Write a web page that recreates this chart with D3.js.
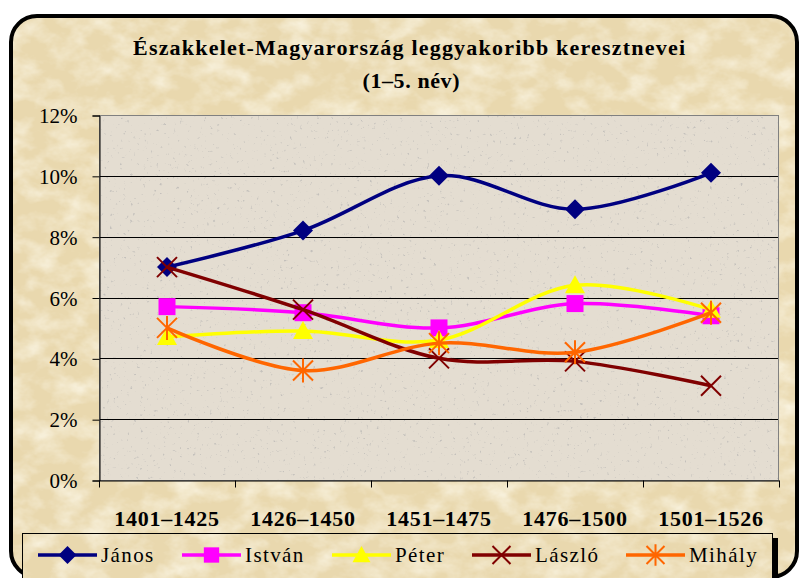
<!DOCTYPE html>
<html>
<head>
<meta charset="utf-8">
<script src="https://cdn.jsdelivr.net/npm/d3@7"></script>
<style>
  body { margin: 0; background: #fff; }
  svg { display: block; }
  text { font-family: "Liberation Serif", "DejaVu Serif", serif; fill: #000; }
</style>
</head>
<body>
<div id="chart"></div>
<script>
'use strict'

// periods on the x axis
const periods = ["1401–1425", "1426–1450", "1451–1475", "1476–1500", "1501–1526"]
// share of each name, in percent
const janos  = [7.0, 8.2, 10.0, 8.9, 10.1]
const istvan = [5.7, 5.5, 5.0, 5.8, 5.4]
const peter  = [4.7, 4.9, 4.6, 6.4, 5.6]
const laszlo = [7.0, 5.6, 4.0, 3.9, 3.1]
const mihaly = [5.0, 3.6, 4.5, 4.2, 5.5]
const names  = ["János", "István", "Péter", "László", "Mihály"]
const yTicks = [0, 2, 4, 6, 8, 10, 12]

const series = [
  {name: names[0], values: janos,  color: "#000080", marker: "diamond"},
  {name: names[1], values: istvan, color: "#ff00ff", marker: "square"},
  {name: names[2], values: peter,  color: "#ffff00", marker: "triangle"},
  {name: names[3], values: laszlo, color: "#800000", marker: "cross"},
  {name: names[4], values: mihaly, color: "#ff6600", marker: "star"}
]

const serif = '"Liberation Serif", "DejaVu Serif", serif'
const width = 799, height = 578
const svg = d3.select("#chart").append("svg")
  .attr("width", width).attr("height", height)

const defs = svg.append("defs")
// parchment mottling
const paper = defs.append("filter").attr("id", "paper")
  .attr("x", 0).attr("y", 0).attr("width", 1).attr("height", 1)
paper.append("feTurbulence").attr("type", "fractalNoise")
  .attr("baseFrequency", "0.035 0.05").attr("numOctaves", 4).attr("seed", 7)
paper.append("feColorMatrix").attr("type", "matrix")
  .attr("values", "0 0 0 0 0.97  0 0 0 0 0.93  0 0 0 0 0.80  1.6 0 0 0 -0.62")

// speckles for the plot area
const speck = defs.append("filter").attr("id", "speck")
  .attr("x", 0).attr("y", 0).attr("width", 1).attr("height", 1)
speck.append("feTurbulence").attr("type", "fractalNoise")
  .attr("baseFrequency", 0.3).attr("numOctaves", 2).attr("seed", 3)
speck.append("feColorMatrix").attr("type", "matrix")
  .attr("values", "0 0 0 0 0.55  0 0 0 0 0.53  0 0 0 0 0.50  6 0 0 0 -4.1")

defs.append("clipPath").attr("id", "frameClip")
  .append("rect").attr("x", 11).attr("y", 16).attr("width", 786).attr("height", 561).attr("rx", 26)

// outer frame
const frame = svg.append("g")
frame.append("rect").attr("x", 11).attr("y", 16).attr("width", 786).attr("height", 561)
  .attr("rx", 26).attr("fill", "#e9d8ae")
frame.append("rect").attr("x", 11).attr("y", 16).attr("width", 786).attr("height", 561)
  .attr("clip-path", "url(#frameClip)").attr("filter", "url(#paper)")
frame.append("rect").attr("x", 11).attr("y", 16).attr("width", 786).attr("height", 561)
  .attr("rx", 26).attr("fill", "none").attr("stroke", "#000").attr("stroke-width", 4)

// title
const title = svg.append("text").attr("text-anchor", "middle")
  .style("font-weight", "bold").style("font-size", "22px")
title.append("tspan").attr("x", 409).attr("y", 55)
  .attr("textLength", 552).attr("lengthAdjust", "spacing")
  .text("Északkelet-Magyarország leggyakoribb keresztnevei")
title.append("tspan").attr("x", 411).attr("y", 88)
  .attr("textLength", 97).attr("lengthAdjust", "spacing")
  .text("(1–5. név)")

const plot = {left: 99, right: 779, top: 115, bottom: 480}

const x = d3.scaleBand().domain(periods).range([plot.left, plot.right])
const y = d3.scaleLinear().domain([0, 12]).range([plot.bottom, plot.top])

// plot area
svg.append("rect").attr("x", plot.left).attr("y", plot.top)
  .attr("width", plot.right - plot.left).attr("height", plot.bottom - plot.top)
  .attr("fill", "#e4ddd1")
svg.append("rect").attr("x", plot.left).attr("y", plot.top)
  .attr("width", plot.right - plot.left).attr("height", plot.bottom - plot.top)
  .attr("filter", "url(#speck)")

// gridlines
svg.append("g").selectAll("line").data(yTicks.filter(d => d > 0)).enter().append("line")
  .attr("x1", plot.left).attr("x2", plot.right)
  .attr("y1", d => Math.round(y(d)) + 0.5).attr("y2", d => Math.round(y(d)) + 0.5)
  .attr("stroke", "#000").attr("stroke-width", 1)

svg.append("rect").attr("x", plot.left + 0.5).attr("y", plot.top + 0.5)
  .attr("width", plot.right - plot.left - 1).attr("height", plot.bottom - plot.top)
  .attr("fill", "none").attr("stroke", "#808080").attr("stroke-width", 1)

// y axis
const yAxis = svg.append("g").attr("transform", "translate(" + (plot.left + 0.5) + ",0.5)")
  .call(d3.axisLeft(y).tickValues(yTicks).tickFormat(d => d + "%").tickSize(7).tickPadding(15))
yAxis.attr("font-family", null)
yAxis.select(".domain").attr("stroke", "#000")
yAxis.selectAll(".tick line").attr("stroke", "#000")
yAxis.selectAll("text").style("font-family", serif)
  .style("font-size", "21px").attr("dy", "0.34em")

// x axis
const xAxis = svg.append("g").attr("transform", "translate(0," + (plot.bottom + 0.5) + ")")
  .call(d3.axisBottom(x).tickSize(0).tickPadding(30))
xAxis.attr("font-family", null)
xAxis.select(".domain").attr("stroke", "#000")
xAxis.selectAll(".tick text").style("font-family", serif)
  .style("font-size", "22px").style("font-weight", "bold").style("letter-spacing", "0.7px")
// tick marks between categories
xAxis.selectAll(".sep").data(d3.range(periods.length + 1)).enter().append("line")
  .attr("x1", i => Math.round(plot.left + i * x.step()) + 0.5)
  .attr("x2", i => Math.round(plot.left + i * x.step()) + 0.5)
  .attr("y1", 0).attr("y2", 7).attr("stroke", "#000")

const cx = i => x(periods[i]) + x.bandwidth() / 2

function drawMarker(g, type, color, s) {
  if (type === "diamond") {
    g.append("path").attr("d", `M0,${-s}L${s},0L0,${s}L${-s},0Z`).attr("fill", color)
  } else if (type === "square") {
    g.append("rect").attr("x", -s * 0.85).attr("y", -s * 0.85)
      .attr("width", s * 1.7).attr("height", s * 1.7).attr("fill", color)
  } else if (type === "triangle") {
    g.append("path").attr("d", `M0,${-s}L${s},${s * 0.8}L${-s},${s * 0.8}Z`).attr("fill", color)
  } else if (type === "cross") {
    g.append("path").attr("d", `M${-s},${-s}L${s},${s}M${-s},${s}L${s},${-s}`)
      .attr("stroke", color).attr("stroke-width", 2)
  } else {
    g.append("path").attr("d", `M${-s},${-s}L${s},${s}M${-s},${s}L${s},${-s}M0,${-s * 1.2}L0,${s * 1.2}`)
      .attr("stroke", color).attr("stroke-width", 2)
  }
}

const line = d3.line()
  .x((d, i) => cx(i))
  .y(d => y(d))
  .curve(d3.curveCardinal.tension(0))

series.forEach(function(s) {
  svg.append("path").datum(s.values)
    .attr("d", line)
    .attr("fill", "none").attr("stroke", s.color).attr("stroke-width", 3.5)
    .attr("stroke-linejoin", "round")
  s.values.forEach(function(v, i) {
    const g = svg.append("g").attr("transform", "translate(" + cx(i) + "," + y(v) + ")")
    drawMarker(g, s.marker, s.color, 10)
  })
})

// legend
const legend = svg.append("g")
legend.append("rect").attr("x", 27).attr("y", 538).attr("width", 751).attr("height", 45).attr("fill", "#000")
legend.append("rect").attr("x", 22.5).attr("y", 533.5).attr("width", 750).attr("height", 50)
  .attr("fill", "#e9d8ae").attr("stroke", "#000").attr("stroke-width", 1)
legend.append("rect").attr("x", 23).attr("y", 534).attr("width", 749).attr("height", 49)
  .attr("filter", "url(#paper)")

const legendX = [38, 182, 332, 472, 626]
series.forEach(function(s, i) {
  const g = legend.append("g").attr("transform", "translate(" + legendX[i] + ",555)")
  g.append("line").attr("x1", 0).attr("x2", 59).attr("stroke", s.color).attr("stroke-width", 3.5)
  const m = g.append("g").attr("transform", "translate(29.5,0)")
  drawMarker(m, s.marker, s.color, 9)
  g.append("text").attr("x", 63).attr("y", 7).style("font-size", "21px")
    .style("letter-spacing", "1.4px").text(s.name)
})
</script>
</body>
</html>
